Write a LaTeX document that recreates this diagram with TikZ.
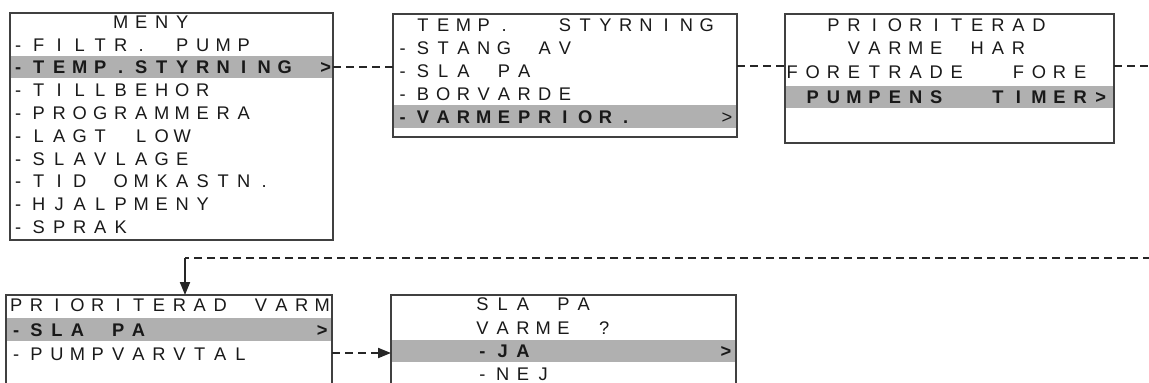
\documentclass[tikz,border=0pt]{standalone}
\usepackage{fontspec}
\usetikzlibrary{arrows.meta}
\newfontfamily\lcdfont{Liberation Sans}
\ExplSyntaxOn
\NewDocumentCommand{\lcdrow}{m m}{
  \str_map_inline:nn {#2}
    { \str_if_eq:nnTF {##1} {_}
        { \hspace{#1pt} }
        { \makebox[#1pt][c]{##1} } }
}
\ExplSyntaxOff
\tikzset{
  txt/.style={anchor=base west, inner sep=0pt, outer sep=0pt, text=black!90,
    font=\lcdfont\fontsize{18.3}{20}\selectfont},
  btxt/.style={txt, font=\lcdfont\bfseries\fontsize{18.3}{20}\selectfont},
  screen/.style={draw=black!75, line width=1.3pt, inner sep=0pt, outer sep=0pt, rectangle},
  selband/.style={fill=black!31, inner sep=0pt, outer sep=0pt, rectangle},
  dashln/.style={draw=black!85, line width=2pt, dash pattern=on 8pt off 5pt},
  tip/.style={-{Triangle[length=13pt,width=10pt]}}
}
\begin{document}
\begin{tikzpicture}[x=1pt,y=-1pt]
\useasboundingbox (0,0) rectangle (1149,383);
\clip (0,0) rectangle (1149,383);
% selection bands
\node[selband, minimum width=323pt, minimum height=22pt] (s1) at (171.5,67) {};
\node[selband, minimum width=344pt, minimum height=23pt] (s2) at (565,116.5) {};
\node[selband, minimum width=329pt, minimum height=22pt] (s3) at (949.5,97) {};
\node[selband, minimum width=326pt, minimum height=23pt] (s4) at (169,329.5) {};
\node[selband, minimum width=345pt, minimum height=22pt] (s5) at (563.5,351) {};
% screens
\node[screen, minimum width=323pt, minimum height=227pt] (b1) at (171.5,126.5) {};
\node[screen, minimum width=344pt, minimum height=123pt] (b2) at (565,75.5) {};
\node[screen, minimum width=329pt, minimum height=129pt] (b3) at (949.5,78.5) {};
\node[screen, minimum width=326pt, minimum height=130pt] (b4) at (169,360) {};
\node[screen, minimum width=345pt, minimum height=130pt] (b5) at (563.5,360) {};
% box 1 texts
\node[txt]  (t10) at (8,28.2)   {\lcdrow{20.5}{_____MENY}};
\node[txt]  (t11) at (8,51)     {\lcdrow{20.5}{-FILTR._PUMP}};
\node[btxt] (t12) at (8,73.8)   {\lcdrow{20.5}{-TEMP.STYRNING_>}};
\node[txt]  (t13) at (8,96.6)   {\lcdrow{20.5}{-TILLBEHOR}};
\node[txt]  (t14) at (8,119.4)  {\lcdrow{20.5}{-PROGRAMMERA}};
\node[txt]  (t15) at (8,142.2)  {\lcdrow{20.5}{-LAGT_LOW}};
\node[txt]  (t16) at (8,165)    {\lcdrow{20.5}{-SLAVLAGE}};
\node[txt]  (t17) at (8,187.8)  {\lcdrow{20.5}{-TID_OMKASTN.}};
\node[txt]  (t18) at (8,210.6)  {\lcdrow{20.5}{-HJALPMENY}};
\node[txt]  (t19) at (8,233.4)  {\lcdrow{20.5}{-SPRAK}};
% box 2 texts
\node[txt]  (t20) at (392.6,31.2)  {\lcdrow{20.27}{_TEMP.__STYRNING}};
\node[txt]  (t21) at (392.6,54.2)  {\lcdrow{20.27}{-STANG_AV}};
\node[txt]  (t22) at (392.6,77.2)  {\lcdrow{20.27}{-SLA_PA}};
\node[txt]  (t23) at (392.6,100.2) {\lcdrow{20.27}{-BORVARDE}};
\node[btxt] (t24) at (392.6,123.2) {\lcdrow{20.27}{-VARMEPRIOR.}};
\node[txt]  (g2)  at (716.9,123.2) {\lcdrow{20.27}{>}};
% box 3 texts
\node[txt]  (t30) at (782,31.2)  {\lcdrow{20.56}{__PRIORITERAD}};
\node[txt]  (t31) at (782,54.7)  {\lcdrow{20.56}{___VARME_HAR}};
\node[txt]  (t32) at (782,78.2)  {\lcdrow{20.56}{FORETRADE__FORE}};
\node[btxt] (t33) at (782,103.2) {\lcdrow{20.56}{_PUMPENS__TIMER>}};
% box 4 texts
\node[txt]  (t40) at (6,311.2)   {\lcdrow{20.4}{PRIORITERAD_VARM}};
\node[btxt] (t41) at (6,336.2)   {\lcdrow{20.4}{-SLA_PA________>}};
\node[txt]  (t42) at (6,360.2)   {\lcdrow{20.4}{-PUMPVARVTAL}};
% box 5 texts
\node[txt]  (t50) at (391,310.2) {\lcdrow{20.3}{____SLA_PA}};
\node[txt]  (t51) at (391,334.2) {\lcdrow{20.3}{____VARME_?}};
\node[btxt] (t52) at (391,357.2) {\lcdrow{20.3}{____-JA_________>}};
\node[txt]  (t53) at (391,380.2) {\lcdrow{20.3}{____-NEJ}};
% connector helpers
\coordinate (j23) at (0,66);
\coordinate (far1) at (1160,66);
\coordinate (far2) at (1160,258);
\coordinate (turn) at (185,258);
\coordinate (j45) at (0,353);
% connectors
\draw[dashln] (s1.east) -- (b2.west |- s1.east);
\draw[dashln] (b2.east |- j23) -- (b3.west |- j23);
\draw[dashln] (b3.east |- j23) -- (far1) -- (far2) -- (turn);
\draw[draw=black!85, line width=2pt, tip] (turn) -- (turn |- b4.north);
\draw[dashln, tip] (b4.east |- j45) -- (b5.west |- j45);
\end{tikzpicture}
\end{document}
